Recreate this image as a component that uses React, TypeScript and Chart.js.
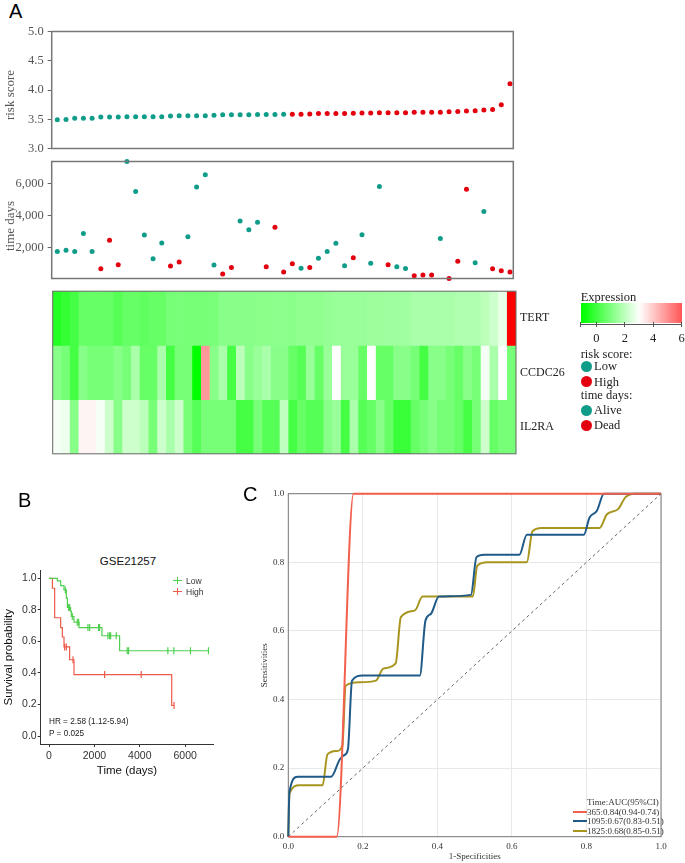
import React, { useEffect, useRef } from 'react';
import { Chart, registerables } from 'chart.js';

Chart.register(...registerables);

const SERIF = '"Liberation Serif", "Times New Roman", serif';
const SANS = '"Liberation Sans", Arial, sans-serif';

// ---------------- Panel A data ----------------
const riskScore = [
  3.49, 3.495, 3.516, 3.516, 3.516, 3.54, 3.54, 3.54, 3.543, 3.543, 3.543, 3.543, 3.543, 3.554,
  3.559, 3.559, 3.559, 3.559, 3.57, 3.575, 3.575, 3.575, 3.575, 3.58, 3.58, 3.58, 3.586,
  3.586, 3.586, 3.591, 3.597, 3.597, 3.597, 3.597, 3.602, 3.607, 3.607, 3.613, 3.613, 3.613,
  3.613, 3.618, 3.618, 3.618, 3.618, 3.629, 3.634, 3.64, 3.645, 3.656, 3.667, 3.75, 4.105,
];
const LOW_RISK_COUNT = 27;
const survivalDays = [
  1770, 1860, 1770, 2890, 1770, 700, 2470, 950, 7380, 5510, 2800, 1320, 2310, 870, 1130, 2700,
  5790, 6560, 930, 370, 780, 3670, 3130, 3590, 830, 3280, 500, 1010, 740, 780, 1360, 1770,
  2290, 890, 1380, 2820, 1050, 5830, 950, 820, 720, 270, 310, 310, 2580, 95, 1170, 5650,
  1070, 4270, 700, 580, 500,
];
const vitalStatus = [
  'A', 'A', 'A', 'A', 'A', 'D', 'D', 'D', 'A', 'A', 'A', 'A', 'A', 'D', 'D', 'A',
  'A', 'A', 'A', 'D', 'D', 'A', 'A', 'A', 'D', 'D', 'D', 'D', 'A', 'D', 'A', 'A',
  'A', 'A', 'D', 'A', 'A', 'A', 'D', 'A', 'A', 'D', 'D', 'D', 'A', 'D', 'D', 'D',
  'A', 'A', 'D', 'D', 'D',
];
const timeTicks = [2000, 4000, 6000];
const riskTicks = [3, 3.5, 4, 4.5, 5];
const geneNames = ['TERT', 'CCDC26', 'IL2RA'];
const tertExpr = [
  -0.47, -0.2, 0.07, 0.6, 0.6, 0.6, 0.6, 0.33, 0.6, 0.6, 0.47, 0.6, 0.6, 0.87, 0.91, 0.87, 0.87,
  0.87, 0.91, 1.13, 1.13, 1.13, 1.13, 1.16, 1.16, 1.2, 1.2, 1.16, 1.26, 1.26, 1.26, 1.34, 1.4,
  1.4, 1.4, 1.42, 1.45, 1.45, 1.48, 1.5, 1.51, 1.67, 1.67, 1.67, 1.67, 1.67, 1.76, 1.76, 1.76,
  1.93, 2.2, 2.64, 7.5,
];
const ccdc26Expr = [
  1.13, 0.87, 0.07, 1.13, 0.87, 0.87, 0.87, 1.13, 0.87, 1.67, 0.6, 0.6, 1.67, 0.07, 0.87, 0.87,
  -1, 4.8, 1.13, 1.67, 0.07, 1.93, 1.13, 1.4, 1.67, 1.13, 1.13, 0.6, 0.33, 1.4, 0.6, 1.4, 3.0,
  1.4, 1.4, 0.6, 3.0, 0.6, 0.6, 1.13, 1.13, 0.87, 0.07, 1.13, 1.13, 0.87, 0.6, 1.13, 0.87, 2.85,
  1.67, 3.0, 0.87,
];
const il2raExpr = [
  2.85, 2.73, 1.13, 3.2, 3.2, 2.85, 2.2, 1.13, 2.2, 2.2, 1.93, 0.87, 2.2, 1.67, 2.2, 0.87, 0.33,
  0.87, 0.87, 0.87, 0.87, 0.07, 0.07, 0.87, 0.33, 0.33, 2.0, 0.07, 0.6, 0.33, 0.33, 1.13, 1.4,
  0.07, 1.67, 0.33, 0.6, 1.13, 0.6, -0.1, -0.1, 0.6, 0.87, 1.13, 0.87, 0.87, 0.6, 0.07, 0.87, 2.2,
  0.6, 0.87, 0.87,
];
const exprTicks = [0, 2, 4, 6];
const EXPR_MIN = -1.1;
const EXPR_MAX = 6;

// ---------------- Panel B data ----------------
const kmLowTimes = [0, 367, 513, 660, 763, 810, 953, 983, 1100, 1320, 2332, 3110, 7025];
const kmLowSurv = [1, 0.983, 0.954, 0.926, 0.874, 0.815, 0.79, 0.758, 0.722, 0.688, 0.636, 0.541, 0.541];
const kmLowCensor = [719, 865, 909, 1027, 1247, 1306, 1716, 1790, 2185, 2229, 2596, 2670, 2714, 2963, 3447, 3505, 5236, 5500, 6233, 7025];
const kmHighTimes = [0, 150, 250, 513, 587, 660, 909, 1100, 5405, 5507];
const kmHighSurv = [1, 0.937, 0.75, 0.688, 0.628, 0.565, 0.484, 0.39, 0.194, 0.194];
const kmHighCensor = [689, 763, 1056, 2449, 4063, 5507];
const kmXTicks = [0, 2000, 4000, 6000];
const kmYTicks = [0, 0.2, 0.4, 0.6, 0.8, 1.0];

// ---------------- Panel C data ----------------
const roc365X = [0, 0.13, 0.175, 1];
const roc365Y = [0, 0, 1, 1];
const roc1095X = [0, 0.003, 0.025, 0.115, 0.138, 0.15, 0.16, 0.171, 0.2, 0.353, 0.368, 0.383, 0.404, 0.49, 0.505, 0.525, 0.62, 0.64, 0.793, 0.808, 0.828, 0.847, 1];
const roc1095Y = [0, 0.13, 0.175, 0.175, 0.225, 0.238, 0.255, 0.455, 0.47, 0.47, 0.63, 0.65, 0.7, 0.705, 0.815, 0.822, 0.822, 0.88, 0.88, 0.93, 0.95, 1, 1];
const roc1825X = [0, 0.003, 0.03, 0.092, 0.105, 0.13, 0.145, 0.154, 0.19, 0.235, 0.255, 0.288, 0.302, 0.34, 0.36, 0.495, 0.507, 0.535, 0.64, 0.655, 0.68, 0.835, 0.855, 0.885, 0.905, 0.93, 1];
const roc1825Y = [0, 0.125, 0.15, 0.15, 0.24, 0.25, 0.265, 0.44, 0.45, 0.455, 0.49, 0.505, 0.64, 0.66, 0.7, 0.7, 0.79, 0.8, 0.8, 0.89, 0.9, 0.9, 0.94, 0.955, 0.99, 1, 1];
const rocLabels = ['365:0.84(0.94-0.74)', '1095:0.67(0.83-0.51)', '1825:0.68(0.85-0.51)'];
const rocColors = ['#f2604e', '#1f5a88', '#a8951f'];
const rocTicks = [0, 0.2, 0.4, 0.6, 0.8, 1.0];

// ---------------- helpers ----------------
const TEAL = '#0f9d8a';
const RED = '#e3000f';
const LOW_GREEN = '#4fcf4f';
const HIGH_RED = '#ee5a48';

function heatColor(v: number): string {
  if (v <= 3) {
    const t = Math.max(0, Math.min(1, (v + 1) / 4));
    const c = Math.round(255 * t);
    return `rgb(${c},255,${c})`;
  }
  const t = Math.min(1, (v - 3) / 4.5);
  const c = Math.round(255 * (1 - t));
  return `rgb(255,${c},${c})`;
}

const boxPlugin = {
  id: 'box',
  beforeDatasetsDraw(chart: any, _a: any, opts: any) {
    if (!opts || !opts.color || !opts.before) return;
    drawBox(chart, opts);
  },
  afterDraw(chart: any, _a: any, opts: any) {
    if (!opts || !opts.color || opts.before) return;
    drawBox(chart, opts);
  },
};
function drawBox(chart: any, opts: any) {
  const { ctx, chartArea: a } = chart;
  ctx.save();
  ctx.strokeStyle = opts.color;
  ctx.lineWidth = opts.width || 1;
  ctx.strokeRect(a.left, a.top, a.right - a.left, a.bottom - a.top);
  ctx.restore();
}
Chart.register(boxPlugin);

const fixW = (w: number) => (s: any) => { s.width = w; };
const fixH = (h: number) => (s: any) => { s.height = h; };
const setTicks = (vals: number[]) => (s: any) => { s.ticks = vals.map((v) => ({ value: v })); };

function stepLookup(times: number[], surv: number[], t: number) {
  let s = surv[0];
  for (let i = 0; i < times.length; i++) if (times[i] <= t) s = surv[i];
  return s;
}

function ChartBox(props: { left: number; top: number; width: number; height: number; make: () => any }) {
  const ref = useRef<HTMLCanvasElement>(null);
  useEffect(() => {
    const c = new Chart(ref.current as HTMLCanvasElement, props.make());
    return () => c.destroy();
  }, []);
  return (
    <div style={{ position: 'absolute', left: props.left, top: props.top, width: props.width, height: props.height }}>
      <canvas ref={ref} width={props.width} height={props.height} style={{ display: 'block', width: props.width, height: props.height }} />
    </div>
  );
}

const idx = riskScore.map((_, i) => i);

function riskConfig() {
  return {
    type: 'scatter',
    data: {
      datasets: [{
        data: idx.map((i) => ({ x: i, y: riskScore[i] })),
        backgroundColor: idx.map((i) => (i < LOW_RISK_COUNT ? TEAL : RED)),
        borderWidth: 0,
        pointRadius: 2.5,
        clip: false,
      }],
    },
    options: {
      responsive: false, animation: false,
      layout: { padding: { left: 0, top: 7.7, right: 16.7, bottom: 8 } },
      plugins: { legend: { display: false }, tooltip: { enabled: false }, box: { color: '#777', width: 1.5 } },
      scales: {
        x: { type: 'linear', display: false, min: -0.643, max: 52.38 },
        y: {
          min: 3, max: 5, afterBuildTicks: setTicks(riskTicks), afterFit: fixW(51.7),
          ticks: { callback: (v: any) => Number(v).toFixed(1), font: { family: SERIF, size: 12.5 }, color: '#555', padding: 4 },
          grid: { drawOnChartArea: false, tickLength: 4, color: '#666' },
          border: { display: false },
        },
      },
    },
  };
}

function timeConfig() {
  return {
    type: 'scatter',
    data: {
      datasets: [{
        data: idx.map((i) => ({ x: i, y: survivalDays[i] })),
        backgroundColor: idx.map((i) => (vitalStatus[i] === 'A' ? TEAL : RED)),
        borderWidth: 0,
        pointRadius: 2.5,
        clip: false,
      }],
    },
    options: {
      responsive: false, animation: false,
      layout: { padding: { left: 0, top: 7.3, right: 16.7, bottom: 7.3 } },
      plugins: { legend: { display: false }, tooltip: { enabled: false }, box: { color: '#777', width: 1.5 } },
      scales: {
        x: { type: 'linear', display: false, min: -0.643, max: 52.38 },
        y: {
          bounds: 'data', afterBuildTicks: setTicks(timeTicks), afterFit: fixW(51.7),
          ticks: { callback: (v: any) => Number(v).toLocaleString('en-US'), font: { family: SERIF, size: 12.5 }, color: '#555', padding: 4 },
          grid: { drawOnChartArea: false, tickLength: 4, color: '#666' },
          border: { display: false },
        },
      },
    },
  };
}

function heatConfig() {
  const rows = [tertExpr, ccdc26Expr, il2raExpr];
  return {
    type: 'bar',
    data: {
      labels: idx.map((i) => String(i + 1)),
      datasets: rows.map((vals, r) => ({
        label: geneNames[r],
        data: vals.map(() => [2 - r, 3 - r]),
        backgroundColor: vals.map((v) => heatColor(v)),
        borderWidth: 0,
        grouped: false,
        barPercentage: 1,
        categoryPercentage: 1,
      })),
    },
    options: {
      responsive: false, animation: false,
      layout: { padding: { left: 52.7, top: 7, right: 0, bottom: 7 } },
      plugins: { legend: { display: false }, tooltip: { enabled: false }, box: { color: '#666', width: 1 } },
      scales: {
        x: { display: false },
        y: {
          position: 'right', min: 0, max: 3,
          afterBuildTicks: setTicks([2.5, 1.5, 0.5]), afterFit: fixW(64),
          ticks: { callback: (v: any) => geneNames[Math.round(2.5 - Number(v))], font: { family: SERIF, size: 12 }, color: '#222', padding: 4 },
          grid: { display: false, drawTicks: false },
          border: { display: false },
        },
      },
    },
  };
}

function kmConfig() {
  const pts = (t: number[], s: number[]) => t.map((x, i) => ({ x, y: s[i] }));
  const cens = (c: number[], t: number[], s: number[]) => c.map((x) => ({ x, y: stepLookup(t, s, x) }));
  return {
    type: 'line',
    data: {
      datasets: [
        { data: pts(kmLowTimes, kmLowSurv), borderColor: LOW_GREEN, borderWidth: 1.2, stepped: 'before', pointRadius: 0, fill: false },
        { data: pts(kmHighTimes, kmHighSurv), borderColor: HIGH_RED, borderWidth: 1.2, stepped: 'before', pointRadius: 0, fill: false },
        { data: cens(kmLowCensor, kmLowTimes, kmLowSurv), showLine: false, pointStyle: 'line', rotation: 90, pointRadius: 3.5, borderColor: LOW_GREEN, borderWidth: 1.2 },
        { data: cens(kmHighCensor, kmHighTimes, kmHighSurv), showLine: false, pointStyle: 'line', rotation: 90, pointRadius: 3.5, borderColor: HIGH_RED, borderWidth: 1.2 },
      ],
    },
    options: {
      responsive: false, animation: false,
      layout: { padding: { left: 0, top: 10.4, right: 26.7, bottom: 0 } },
      plugins: { legend: { display: false }, tooltip: { enabled: false } },
      scales: {
        x: {
          type: 'linear', min: -366, max: 7238, afterBuildTicks: setTicks(kmXTicks), afterFit: fixH(46),
          ticks: { callback: (v: any) => String(v), font: { family: SANS, size: 10.5 }, color: '#333', padding: 3 },
          grid: { drawOnChartArea: false, tickLength: 3, color: '#333' },
          border: { display: true, color: '#333', width: 1 },
          title: { display: true, text: 'Time (days)', font: { family: SANS, size: 11.5 }, color: '#111', padding: { top: 0, bottom: 12 } },
        },
        y: {
          min: -0.05, max: 1.05, afterBuildTicks: setTicks(kmYTicks), afterFit: fixW(40.7),
          ticks: { callback: (v: any) => Number(v).toFixed(1), font: { family: SANS, size: 10.5 }, color: '#333', padding: 1 },
          grid: { drawOnChartArea: false, tickLength: 3, color: '#333' },
          border: { display: true, color: '#333', width: 1 },
          title: { display: true, text: 'Survival probability', font: { family: SANS, size: 11.5 }, color: '#111', padding: { top: 1.5, bottom: 0 } },
        },
      },
    },
  };
}

function rocConfig() {
  const pts = (xs: number[], ys: number[]) => xs.map((x, i) => ({ x, y: ys[i] }));
  const curves = [[roc365X, roc365Y], [roc1095X, roc1095Y], [roc1825X, roc1825Y]];
  return {
    type: 'line',
    data: {
      datasets: [
        { data: [{ x: 0, y: 0 }, { x: 1, y: 1 }], borderColor: '#666', borderWidth: 1, borderDash: [3, 3], pointRadius: 0, fill: false },
        ...curves.map((c, i) => ({
          label: rocLabels[i], data: pts(c[0], c[1]), borderColor: rocColors[i], borderWidth: 2,
          pointRadius: 0, fill: false, cubicInterpolationMode: 'monotone', clip: false,
        })),
      ],
    },
    options: {
      responsive: false, animation: false,
      layout: { padding: { left: 0, top: 13.7, right: 24, bottom: 0 } },
      plugins: { legend: { display: false }, tooltip: { enabled: false }, box: { color: '#777', width: 1, before: true } },
      scales: {
        x: {
          type: 'linear', min: 0, max: 1, afterBuildTicks: setTicks(rocTicks), afterFit: fixH(26.3),
          ticks: { callback: (v: any) => Number(v).toFixed(1), font: { family: SERIF, size: 9 }, color: '#333', padding: 5 },
          grid: { color: '#e8e8e8', drawTicks: false },
          border: { display: false },
          title: { display: true, text: '1-Specificities', font: { family: SERIF, size: 9 }, color: '#333', padding: { top: 0, bottom: 1 } },
        },
        y: {
          min: 0, max: 1, afterBuildTicks: setTicks(rocTicks), afterFit: fixW(48.3),
          ticks: { callback: (v: any) => Number(v).toFixed(1), font: { family: SERIF, size: 9 }, color: '#333', padding: 4 },
          grid: { color: '#e8e8e8', drawTicks: false },
          border: { display: false },
          title: { display: true, text: 'Sensitivities', font: { family: SERIF, size: 9 }, color: '#333', padding: { top: 19.6, bottom: 0 } },
        },
      },
    },
  };
}

const abs = (left: number, top: number, extra: any = {}) => ({ position: 'absolute' as const, left, top, ...extra });

function VerticalTitle(props: { cx: number; cy: number; text: string }) {
  return (
    <div style={abs(props.cx - 60, props.cy - 8, {
      width: 120, height: 16, lineHeight: '16px', textAlign: 'center', transform: 'rotate(-90deg)',
      fontFamily: SERIF, fontSize: 13, color: '#555', whiteSpace: 'nowrap',
    })}>{props.text}</div>
  );
}

function ExpressionLegend() {
  const stops: string[] = [];
  const n = 28;
  for (let k = 0; k <= n; k++) {
    const v = EXPR_MIN + ((EXPR_MAX - EXPR_MIN) * k) / n;
    stops.push(`${heatColor(v)} ${((k / n) * 100).toFixed(1)}%`);
  }
  const barL = 580.7, barW = 101;
  const xOf = (v: number) => barL + ((v - EXPR_MIN) / (EXPR_MAX - EXPR_MIN)) * barW;
  const txt = { fontFamily: SERIF, fontSize: 12.5, color: '#222', lineHeight: '14px', whiteSpace: 'nowrap' as const };
  const dot = (c: string) => ({ width: 11, height: 11, borderRadius: '50%', background: c });
  const entries = [
    { y: 354, t: 'risk score:' }, { y: 366, t: 'Low', c: TEAL }, { y: 381.5, t: 'High', c: RED },
    { y: 395, t: 'time days:' }, { y: 410, t: 'Alive', c: TEAL }, { y: 425, t: 'Dead', c: RED },
  ];
  return (
    <>
      <div style={abs(580.7, 290, txt)}>Expression</div>
      <div style={abs(barL, 303, { width: barW, height: 19.5, background: `linear-gradient(to right, ${stops.join(', ')})` })} />
      <div style={abs(barL, 324, { width: barW, height: 1, background: '#555' })} />
      {[EXPR_MIN, ...exprTicks].map((v, i) => (
        <div key={'tk' + i} style={abs(xOf(v) - 0.5, 322, { width: 1, height: 5, background: '#555' })} />
      ))}
      {exprTicks.map((v) => (
        <div key={'tl' + v} style={abs(xOf(v) - 10, 331, { ...txt, width: 20, textAlign: 'center' })}>{v}</div>
      ))}
      {entries.map((e, i) => (
        <React.Fragment key={'e' + i}>
          {e.c ? <div style={abs(580.5, e.y - 5.5, dot(e.c))} /> : null}
          <div style={abs(e.c ? 594 : 580.7, e.y - 7, txt)}>{e.t}</div>
        </React.Fragment>
      ))}
    </>
  );
}

function KMLegend() {
  const items = [{ t: 'Low', c: LOW_GREEN, y: 580.7 }, { t: 'High', c: HIGH_RED, y: 591.7 }];
  return (
    <>
      {items.map((it) => (
        <React.Fragment key={it.t}>
          <div style={abs(172.5, it.y - 0.6, { width: 9.5, height: 1.2, background: it.c })} />
          <div style={abs(176.6, it.y - 3.5, { width: 1.2, height: 7, background: it.c })} />
          <div style={abs(186, it.y - 6, { fontFamily: SANS, fontSize: 8.5, color: '#333', lineHeight: '12px' })}>{it.t}</div>
        </React.Fragment>
      ))}
    </>
  );
}

function ROCLegend() {
  const t = { fontFamily: SERIF, fontSize: 9, color: '#333', lineHeight: '10px', whiteSpace: 'nowrap' as const };
  const ys = [811.7, 821.2, 830.7];
  return (
    <>
      <div style={abs(587, 796.7, t)}>Time:AUC(95%CI)</div>
      {rocLabels.map((l, i) => (
        <React.Fragment key={l}>
          <div style={abs(572.5, ys[i] - 1, { width: 14.5, height: 2, background: rocColors[i] })} />
          <div style={abs(587, ys[i] - 5, t)}>{l}</div>
        </React.Fragment>
      ))}
    </>
  );
}

export default function App() {
  const panelLabel = { fontFamily: SANS, fontSize: 20, color: '#000', lineHeight: '20px' };
  return (
    <div style={{ position: 'absolute', left: 0, top: 0, width: 685, height: 863, background: '#fff', overflow: 'hidden' }}>
      <div style={abs(9, 1, panelLabel)}>A</div>
      <ChartBox left={0} top={20} width={530} height={140} make={riskConfig} />
      <ChartBox left={0} top={150} width={530} height={140} make={timeConfig} />
      <VerticalTitle cx={10} cy={95} text="risk score" />
      <VerticalTitle cx={10} cy={226} text="time days" />
      <ChartBox left={0} top={280} width={580} height={185} make={heatConfig} />
      <ExpressionLegend />

      <div style={abs(18, 490, panelLabel)}>B</div>
      <div style={abs(78, 554, { fontFamily: SANS, fontSize: 11.5, color: '#111', width: 100, textAlign: 'center', lineHeight: '14px' })}>GSE21257</div>
      <ChartBox left={0} top={560} width={240} height={230} make={kmConfig} />
      <KMLegend />
      <div style={abs(49, 716, { fontFamily: SANS, fontSize: 8.2, color: '#222', lineHeight: '11px', whiteSpace: 'nowrap' })}>HR = 2.58 (1.12-5.94)</div>
      <div style={abs(49, 727.5, { fontFamily: SANS, fontSize: 8.2, color: '#222', lineHeight: '11px', whiteSpace: 'nowrap' })}>P = 0.025</div>

      <div style={abs(243, 484, panelLabel)}>C</div>
      <ChartBox left={240} top={480} width={445} height={383} make={rocConfig} />
      <ROCLegend />
    </div>
  );
}
